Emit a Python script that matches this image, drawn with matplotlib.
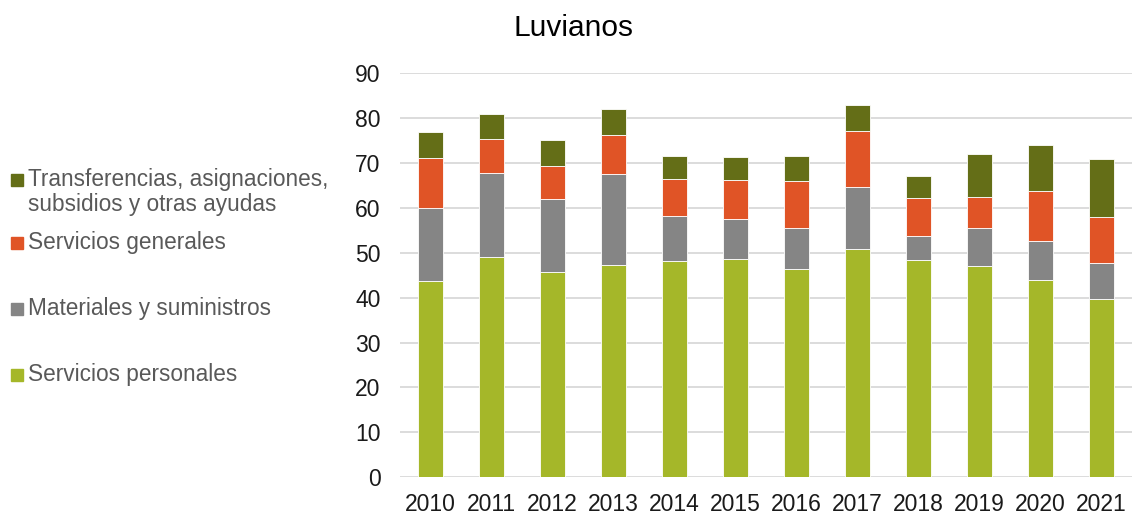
import numpy as np
import matplotlib.pyplot as plt
from matplotlib.patches import Rectangle

plt.rcParams['font.family'] = ['Liberation Sans', 'DejaVu Sans']

years = ['2010', '2011', '2012', '2013', '2014', '2015', '2016', '2017', '2018', '2019', '2020', '2021']

# stacked values
servicios_personales = [43.6, 49.1, 45.6, 47.3, 48.1, 48.5, 46.3, 50.8, 48.4, 47.0, 43.9, 39.7]
materiales = [16.3, 18.6, 16.3, 20.2, 10.1, 9.0, 9.2, 13.8, 5.4, 8.5, 8.7, 8.0]
servicios_generales = [11.1, 7.6, 7.4, 8.7, 8.2, 8.6, 10.4, 12.5, 8.3, 6.9, 11.1, 10.3]
transferencias = [5.8, 5.6, 5.8, 5.8, 5.2, 5.3, 5.6, 5.7, 4.9, 9.5, 10.2, 12.8]

series = [
    ('Servicios personales', servicios_personales, '#a5b729'),
    ('Materiales y suministros', materiales, '#858585'),
    ('Servicios generales', servicios_generales, '#e05426'),
    ('Transferencias, asignaciones,\nsubsidios y otras ayudas', transferencias, '#646e17'),
]

fig = plt.figure(figsize=(11.32, 5.14), dpi=100)
ax = fig.add_axes([0.3534, 0.0714, 0.6466, 0.7866])

x = np.arange(len(years))
bottom = np.zeros(len(years))
for name, vals, col in series:
    ax.bar(x, vals, 0.4, bottom=bottom, color=col, edgecolor='white', linewidth=0.6, zorder=3)
    bottom += np.array(vals)

ax.set_ylim(0, 90)
ax.set_xlim(-0.5, len(years) - 0.5)
ax.set_yticks(np.arange(0, 91, 10))
ax.set_xticks(x)
ax.set_xticklabels(years)
ax.tick_params(axis='both', length=0, labelsize=16.5, colors='#1a1a1a')
ax.tick_params(axis='x', pad=11)
ax.tick_params(axis='y', pad=14)
ax.grid(axis='y', color='#d9d9d9', linewidth=1.3, zorder=0)
for s in ax.spines.values():
    s.set_visible(False)

fig.text(0.507, 0.945, 'Luvianos', ha='center', va='center', fontsize=21.5, color='#000000')

# legend drawn by hand (uneven spacing as in the original)
leg_y = [180, 243, 309, 375]
for (name, vals, col), yp in zip(series[::-1], leg_y):
    fig.patches.append(Rectangle((11 / 1132, 1 - (yp + 6) / 514), 12 / 1132, 12 / 514,
                                 transform=fig.transFigure, color=col, figure=fig))
    fig.text(28 / 1132, 1 - (yp - 12) / 514, name, ha='left', va='top', fontsize=16.3,
             color='#595959', linespacing=1.13)

fig.savefig('out.png', dpi=100)
